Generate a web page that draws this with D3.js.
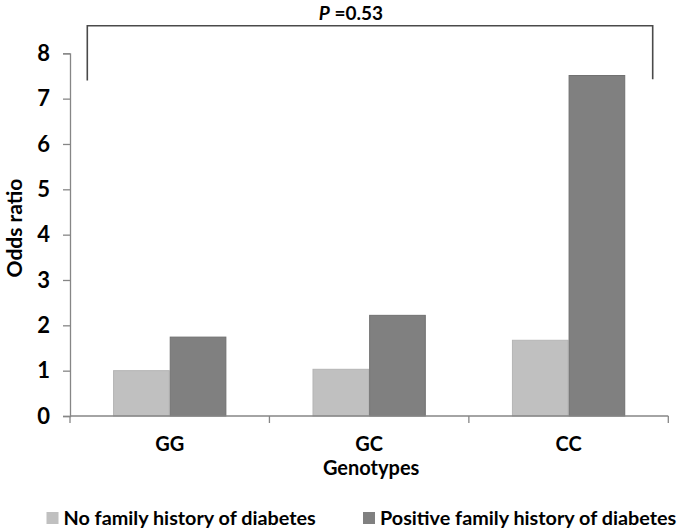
<!DOCTYPE html>
<html>
<head>
<meta charset="utf-8">
<script src="https://cdn.jsdelivr.net/npm/d3@7"></script>
<style>
  html, body { margin: 0; padding: 0; background: #fff; }
  svg { display: block; }
  text { font-family: Lato, "Open Sans", sans-serif; font-weight: bold; fill: #000; }
</style>
</head>
<body>
<svg id="chart" width="685" height="532"></svg>
<script>
const categories = ["GG", "GC", "CC"];
const seriesNames = ["No family history of diabetes", "Positive family history of diabetes"];
const noFamilyHistory = [1.00, 1.03, 1.67];
const positiveFamilyHistory = [1.74, 2.22, 7.51];
const yTicks = [0, 1, 2, 3, 4, 5, 6, 7, 8];
const pValueLabel = "=0.53";
const xAxisTitle = "Genotypes";
const yAxisTitle = "Odds ratio";

const colors = { fill: ["#c0c0c0", "#808080"], stroke: ["#b4b4b4", "#707070"] };
const axisColor = "#868686";

const svg = d3.select("#chart");
const plotLeft = 70, plotRight = 668.3, plotTop = 53.3, plotBottom = 416;

const x = d3.scaleBand().domain(categories).range([plotLeft, plotRight]).paddingInner(0).paddingOuter(0);
const xs = d3.scaleBand().domain(seriesNames).range([0, x.bandwidth()]).paddingInner(0).paddingOuter(0.76);
const y = d3.scaleLinear().domain([0, 8]).range([plotBottom, plotTop]);

const seriesValues = [noFamilyHistory, positiveFamilyHistory];
const rows = [];
categories.forEach((c, i) => seriesNames.forEach((s, j) => rows.push({ c, s, j, v: seriesValues[j][i] })));

// bars
svg.append("g").selectAll("rect").data(rows).join("rect")
  .attr("x", d => x(d.c) + xs(d.s) + 0.5)
  .attr("y", d => y(d.v))
  .attr("width", xs.bandwidth() - 1)
  .attr("height", d => y(0) - y(d.v))
  .attr("fill", d => colors.fill[d.j])
  .attr("stroke", d => colors.stroke[d.j])
  .attr("stroke-width", 1);

// y axis
const yAxis = svg.append("g").attr("transform", `translate(${plotLeft},0)`)
  .call(d3.axisLeft(y).tickValues(yTicks).tickSize(7).tickPadding(13).tickFormat(d3.format("d")));
yAxis.select(".domain").attr("stroke", axisColor).attr("stroke-width", 1.3);
yAxis.selectAll(".tick line").attr("stroke", axisColor).attr("stroke-width", 1.3);
yAxis.selectAll(".tick text").style("font-size", "22px").attr("dy", "0.32em").style("font-family", "Lato, sans-serif");

// x axis
const xAxisG = svg.append("g");
xAxisG.append("line").attr("x1", plotLeft).attr("x2", plotRight).attr("y1", y(0)).attr("y2", y(0))
  .attr("stroke", axisColor).attr("stroke-width", 1.3);
const boundaries = categories.map(c => x(c)).concat([x(categories[categories.length - 1]) + x.bandwidth()]);
xAxisG.selectAll("line.tk").data(boundaries).join("line").attr("class", "tk")
  .attr("x1", d => d).attr("x2", d => d).attr("y1", y(0)).attr("y2", y(0) + 7)
  .attr("stroke", axisColor).attr("stroke-width", 1.3);
xAxisG.selectAll("text").data(categories).join("text")
  .attr("x", d => x(d) + x.bandwidth() / 2).attr("y", y(0) + 35)
  .attr("text-anchor", "middle").style("font-size", "20px").text(d => d);

// axis titles
svg.append("text").attr("x", (plotLeft + plotRight) / 2 + 2).attr("y", 475)
  .attr("text-anchor", "middle").style("font-size", "20px").text(xAxisTitle);
svg.append("text").attr("transform", `translate(22,228) rotate(-90)`)
  .attr("text-anchor", "middle").style("font-size", "21px").text(yAxisTitle);

// significance bracket
const bx1 = x(categories[0]) + 17.3, bx2 = x(categories[2]) + x.bandwidth() - 15.6, by = 25.7;
svg.append("path")
  .attr("d", `M${bx1},${y(7.4)}V${by}H${bx2}V${y(7.43)}`)
  .attr("fill", "none").attr("stroke", "#4a4a4a").attr("stroke-width", 1.6);
const title = svg.append("text").attr("x", (bx1 + bx2) / 2 - 19).attr("y", 19.5)
  .attr("text-anchor", "middle").style("font-size", "19px");
title.append("tspan").style("font-style", "italic").text("P");
title.append("tspan").text(" " + pValueLabel);

// legend
const legendX = [46.5, 363];
const lg = svg.append("g").selectAll("g").data(seriesNames).join("g")
  .attr("transform", (d, i) => `translate(${legendX[i]},512)`);
lg.append("rect").attr("width", 12).attr("height", 12)
  .attr("fill", (d, i) => colors.fill[i]);
lg.append("text").attr("x", 17).attr("y", 13).style("font-size", "19.8px").text(d => d);
</script>
</body>
</html>
